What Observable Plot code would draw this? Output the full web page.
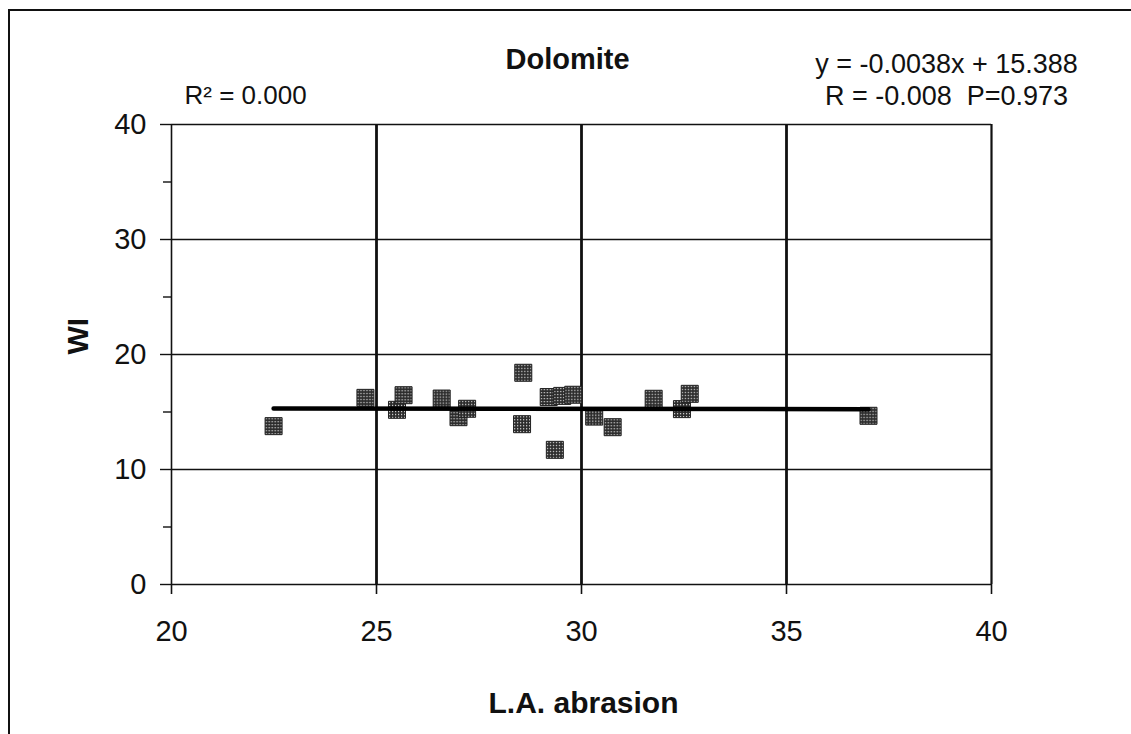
<!DOCTYPE html>
<html>
<head>
<meta charset="utf-8">
<script src="https://cdn.jsdelivr.net/npm/d3@7"></script>
<script src="https://cdn.jsdelivr.net/npm/@observablehq/plot@0.6"></script>
<style>
  html, body { margin: 0; padding: 0; background: #fff; overflow: hidden; }
  #wrap { position: relative; width: 1131px; height: 734px; overflow: hidden; }
  #frame { position: absolute; left: 8px; top: 9px; width: 1300px; height: 900px;
           border-top: 2px solid #111; border-left: 2px solid #111; pointer-events: none; }
</style>
</head>
<body>
<div id="wrap"><div id="frame"></div></div>
<script>
// Data
const laAbrasion = [22.49, 24.73, 25.50, 25.66, 26.59, 27.00, 27.21, 28.58, 28.55, 29.20, 29.53, 29.80, 29.35, 30.31, 30.76, 31.76, 32.45, 32.64, 37.00];
const wi         = [13.77, 16.23, 15.19, 16.46, 16.17, 14.55, 15.28, 18.41, 13.94, 16.30, 16.40, 16.50, 11.71, 14.60, 13.68, 16.15, 15.25, 16.58, 14.67];
const slope = -0.0038;
const intercept = 15.388;
const xTicks = [20, 25, 30, 35, 40];
const yTicks = [0, 10, 20, 30, 40];
const yMinorTicks = [5, 15, 25, 35];
const xGrid = [25, 30, 35];
const yGrid = [10, 20, 30];
const titleText = "Dolomite";
const xLabel = "L.A. abrasion";
const yLabel = "WI";
const r2Text = "R² = 0.000";
const eqLine1 = "y = -0.0038x + 15.388";
const eqLine2 = "R = -0.008  P=0.973";

const points = laAbrasion.map((x, i) => ({x, y: wi[i]}));
const xMin = d3.min(laAbrasion), xMax = d3.max(laAbrasion);
const fitLine = [xMin, xMax].map(x => ({x, y: slope * x + intercept}));

const font = "'Liberation Sans', Arial, Helvetica, sans-serif";

const chart = Plot.plot({
  width: 1131,
  height: 734,
  marginLeft: 171,
  marginRight: 140,
  marginTop: 124,
  marginBottom: 150,
  style: {fontFamily: font, fontSize: "29px", color: "#111", background: "transparent", overflow: "visible"},
  x: {domain: [20, 40]},
  y: {domain: [0, 40]},
  marks: [
    Plot.gridX(xGrid, {stroke: "#111", strokeOpacity: 1, strokeWidth: 2.8}),
    Plot.gridY(yGrid, {stroke: "#111", strokeOpacity: 1, strokeWidth: 1.3}),
    Plot.ruleY([40], {stroke: "#111", strokeWidth: 1.5}),
    Plot.ruleX([40], {stroke: "#111", strokeWidth: 2.2}),
    Plot.ruleX([20], {stroke: "#111", strokeWidth: 1.6}),
    Plot.ruleY([0], {stroke: "#111", strokeWidth: 1.5}),
    Plot.axisX({ticks: xTicks, tickSize: 10, tickPadding: 26, label: null, fontSize: 29, stroke: "#111", strokeWidth: 1.6}),
    Plot.axisY({ticks: yTicks, tickSize: 11, tickPadding: 14, label: null, fontSize: 29, stroke: "#111", strokeWidth: 1.4}),
    Plot.axisY({ticks: yMinorTicks, tickSize: 8, tickFormat: () => "", label: null, stroke: "#111", strokeWidth: 1.4}),
    Plot.dot(points, {x: "x", y: "y", symbol: "square", r: 9.6, fill: "url(#stipple)", stroke: "#222", strokeWidth: 1}),
    Plot.line(fitLine, {x: "x", y: "y", stroke: "#000", strokeWidth: 4.5, strokeLinecap: "round"}),
    Plot.text([titleText], {frameAnchor: "top", dx: -14, dy: -56, lineAnchor: "bottom", fontWeight: "bold", fontSize: 29, fill: "#111"}),
    Plot.text([r2Text], {frameAnchor: "top-left", dx: 13, dy: -21, lineAnchor: "bottom", textAnchor: "start", fontSize: 26, fill: "#111"}),
    Plot.text([eqLine1], {frameAnchor: "top-right", dx: -45, dy: -52, lineAnchor: "bottom", textAnchor: "middle", fontSize: 27, fill: "#111"}),
    Plot.text([eqLine2], {frameAnchor: "top-right", dx: -45, dy: -20, lineAnchor: "bottom", textAnchor: "middle", fontSize: 27, fill: "#111"}),
    Plot.text([xLabel], {frameAnchor: "bottom", dx: 2, dy: 128, lineAnchor: "bottom", fontWeight: "bold", fontSize: 30, fill: "#111"}),
    Plot.text([yLabel], {frameAnchor: "left", dx: -93, rotate: -90, fontWeight: "bold", fontSize: 30, fill: "#111"})
  ]
});

// stipple pattern for the square markers
const ns = "http://www.w3.org/2000/svg";
const defs = document.createElementNS(ns, "defs");
defs.innerHTML = `<pattern id="stipple" patternUnits="userSpaceOnUse" width="3" height="3">
  <rect width="3" height="3" fill="#2b2b2b"></rect>
  <rect x="1" y="1" width="1.2" height="1.2" fill="#e6e6e6"></rect>
</pattern>`;
chart.insertBefore(defs, chart.firstChild);

document.getElementById("wrap").insertBefore(chart, document.getElementById("frame"));
</script>
</body>
</html>
